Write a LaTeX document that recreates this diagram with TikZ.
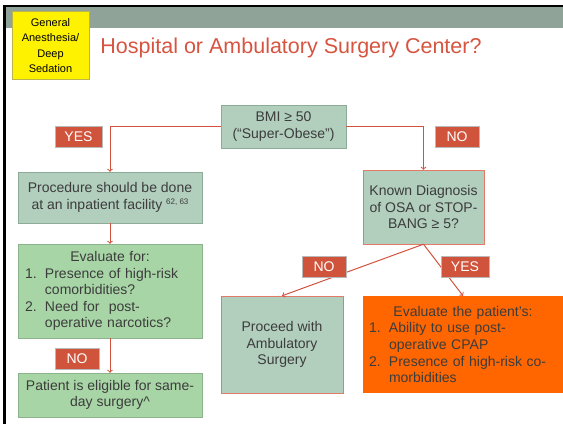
\documentclass[tikz,border=0pt]{standalone}
\usepackage{fontspec}
\setmainfont{Liberation Sans}
\usepackage{xcolor}
\usetikzlibrary{shapes,arrows,positioning,calc}

\definecolor{sage}{RGB}{178,206,189}
\definecolor{sageline}{RGB}{140,172,152}
\definecolor{leaf}{RGB}{168,213,166}
\definecolor{leafline}{RGB}{140,180,140}
\definecolor{rust}{RGB}{226,124,104}
\definecolor{flowred}{RGB}{210,82,62}
\definecolor{tagred}{RGB}{208,84,60}
\definecolor{titlered}{RGB}{214,84,64}
\definecolor{band}{RGB}{143,163,152}
\definecolor{hot}{RGB}{255,102,0}
\definecolor{ink}{RGB}{60,60,60}

% numbered lines inside the list boxes
\newcommand{\numline}[2]{\makebox[20pt][l]{#1}#2}
\newcommand{\contline}[1]{\hspace*{20pt}#1}
% small raised reference numbers
\newcommand{\refnums}[1]{\raisebox{5pt}{\fontsize{8}{8}\selectfont #1}}

\begin{document}
\begin{tikzpicture}[x=1pt,y=1pt,
    txt/.style={text=ink, font=\fontsize{14}{16.6}\selectfont},
    box/.style={txt, draw=sageline, fill=sage, align=center, inner sep=0pt},
    tag/.style={draw=gray!55, fill=tagred, text=white, font=\fontsize{14}{16}\selectfont,
                inner sep=0pt, minimum height=21},
    flow/.style={->, draw=flowred, line width=1pt}]
\useasboundingbox (0,0) rectangle (563,424);

% frame and header band
\fill[black] (3,0) rectangle (6,419);
\fill[black] (3,417) rectangle (563,419);
\fill[band] (6,396) rectangle (563,417);

\node[draw=olive!60, fill=yellow, text=black, align=center, inner sep=0pt,
      minimum width=77, minimum height=68, font=\fontsize{11}{15.5}\selectfont]
      (sedation) at (50.5,378.5) {General\\Anesthesia/\\Deep\\Sedation};
\node[text=titlered, font=\fontsize{21.5}{26}\selectfont] (title) at (291,376)
      {Hospital or Ambulatory Surgery Center?};

% decision boxes
\node[box, minimum width=125, minimum height=43] (bmi) at (283.5,297.5)
      {BMI ≥ 50\\(“Super-Obese”)};
\node[box, minimum width=184, minimum height=51] (inpat) at (110,226.5)
      {Procedure should be done\\at an inpatient facility \refnums{62, 63}};
\node[box, draw=rust, minimum width=121, minimum height=74] (osa) at (423.5,217)
      {Known Diagnosis\\of OSA or STOP-\\BANG ≥ 5?};
\node[box, draw=leafline, fill=leaf, align=left, text width=170, inner xsep=7,
      minimum height=94] (evalfor) at (110,133)
      {\makebox[170pt]{Evaluate for:}\\
       \numline{1.}{Presence of high-risk}\\
       \contline{comorbidities?}\\
       \numline{2.}{Need for\ \ post-}\\
       \contline{operative narcotics?}};
\node[box, draw=leafline, fill=leaf, minimum width=184, minimum height=44] (sameday) at (110,29)
      {Patient is eligible for same-\\day surgery\^{}};
\node[box, draw=rust, minimum width=122, minimum height=97] (ambu) at (282,79.5)
      {Proceed with\\Ambulatory\\Surgery};
\node[box, draw=none, fill=hot, align=left, text width=188, inner xsep=6,
      minimum height=97] (cpap) at (463,79.5)
      {\makebox[188pt]{Evaluate the patient’s:}\\
       \numline{1.}{Ability to use post-}\\
       \contline{operative CPAP}\\
       \numline{2.}{Presence of high-risk co-}\\
       \contline{morbidities}};

% connectors
\draw[flow] (bmi.west) -| (inpat.north);
\draw[flow] (bmi.east) -| (osa.north);
\draw[flow] (inpat.south) -- (evalfor.north);
\draw[flow] (evalfor.south) -- (sameday.north);
\draw[flow] (osa.south) -- (ambu.north);
\draw[flow] (osa.south) -- (cpap.north);

% answers on the branches
\node[tag, minimum width=47] (yesleft) at (78.5,287) {YES};
\node[tag, minimum width=44] (noright) at (457,287) {NO};
\node[tag, minimum width=44] (nolow) at (77,65.5) {NO};
\node[tag, minimum width=44] (nomid) at (324,157.5) {NO};
\node[tag, minimum width=48] (yesmid) at (465,157) {YES};
\end{tikzpicture}
\end{document}
